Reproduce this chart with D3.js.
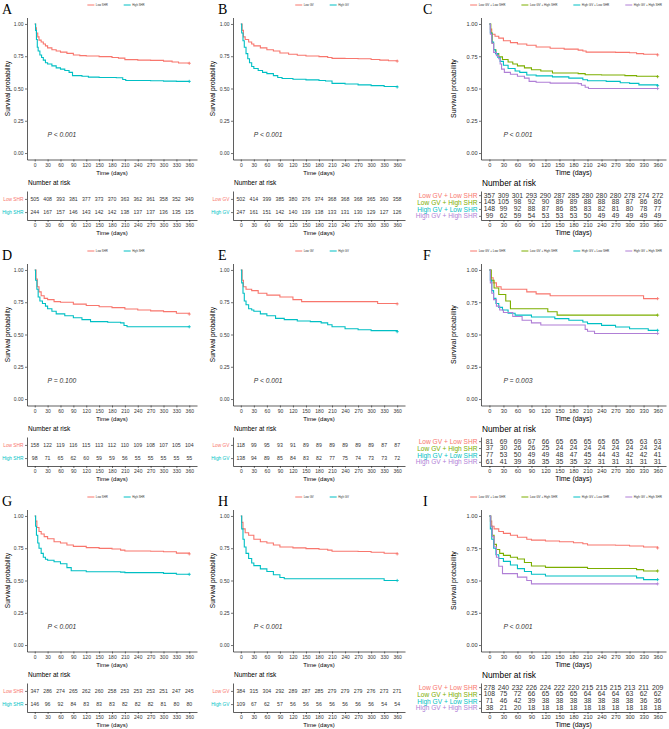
<!DOCTYPE html>
<html>
<head>
<meta charset="utf-8">
<script src="https://cdn.jsdelivr.net/npm/d3@7"></script>
<style>
  body { margin: 0; background: #fff; }
  svg { display: block; font-family: "Liberation Sans", Arial, sans-serif; }
</style>
</head>
<body>
<svg id="chart" width="669" height="729"></svg>
<script>
// ---- data ----
const timeTicks = [0, 30, 60, 90, 120, 150, 180, 210, 240, 270, 300, 330, 360];
const survTicks = [0, 0.25, 0.5, 0.75, 1];

const shrGroups = ["Low SHR", "High SHR"];
const gvGroups = ["Low GV", "High GV"];
const comboGroups = ["Low GV + Low SHR", "Low GV + High SHR", "High GV + Low SHR", "High GV + High SHR"];
const twoColors = ["#F8766D", "#00BFC4"];
const fourColors = ["#F8766D", "#7CAE00", "#00BFC4", "#B07FD6"];

// survival curves: [day, probability] steps
const curveA_low = [[0,1],[2,0.97],[4,0.93],[7,0.9],[10,0.875],[15,0.86],[20,0.845],[25,0.83],[30,0.815],[40,0.8],[50,0.79],[60,0.782],[75,0.772],[90,0.76],[105,0.755],[120,0.752],[150,0.747],[180,0.74],[195,0.735],[210,0.724],[240,0.72],[270,0.718],[300,0.712],[320,0.705],[335,0.698],[360,0.695]];
const curveA_high = [[0,1],[2,0.95],[4,0.88],[6,0.82],[8,0.79],[12,0.76],[16,0.74],[20,0.72],[25,0.7],[30,0.69],[40,0.675],[50,0.66],[60,0.65],[70,0.64],[80,0.625],[88,0.6],[110,0.595],[125,0.588],[150,0.585],[190,0.583],[205,0.57],[212,0.562],[270,0.56],[300,0.557],[330,0.555],[360,0.555]];
const curveB_low = [[0,1],[3,0.95],[6,0.9],[10,0.88],[18,0.86],[25,0.845],[30,0.83],[45,0.815],[60,0.8],[75,0.79],[90,0.775],[110,0.765],[130,0.758],[150,0.752],[180,0.747],[200,0.74],[210,0.733],[240,0.732],[270,0.73],[300,0.725],[320,0.72],[340,0.715],[360,0.712]];
const curveB_high = [[0,1],[2,0.93],[5,0.87],[8,0.82],[12,0.77],[16,0.73],[20,0.7],[25,0.67],[30,0.655],[40,0.64],[50,0.625],[60,0.615],[75,0.6],[85,0.585],[95,0.578],[120,0.572],[150,0.567],[180,0.562],[195,0.558],[210,0.54],[240,0.535],[270,0.528],[300,0.522],[330,0.515],[360,0.512]];
const curveC_1 = [[0,1],[2,0.96],[5,0.92],[12,0.905],[20,0.89],[30,0.87],[45,0.855],[60,0.845],[80,0.835],[100,0.822],[130,0.812],[160,0.805],[190,0.797],[200,0.79],[207,0.782],[240,0.782],[270,0.78],[300,0.777],[315,0.77],[330,0.765],[360,0.76]];
const curveC_2 = [[0,1],[3,0.93],[6,0.85],[9,0.8],[14,0.77],[20,0.745],[28,0.725],[40,0.705],[50,0.69],[60,0.675],[75,0.66],[90,0.645],[110,0.635],[135,0.62],[190,0.615],[205,0.607],[240,0.605],[290,0.6],[315,0.595],[360,0.592]];
const curveC_3 = [[0,1],[2,0.93],[5,0.86],[9,0.8],[13,0.77],[18,0.74],[23,0.71],[30,0.68],[40,0.655],[55,0.635],[65,0.625],[80,0.605],[100,0.598],[135,0.59],[170,0.58],[200,0.568],[210,0.56],[250,0.555],[280,0.545],[300,0.54],[320,0.528],[360,0.522]];
const curveC_4 = [[0,1],[2,0.92],[5,0.85],[9,0.78],[15,0.755],[20,0.73],[23,0.69],[26,0.65],[32,0.625],[45,0.61],[60,0.595],[75,0.58],[85,0.555],[100,0.548],[130,0.542],[190,0.538],[197,0.525],[205,0.51],[212,0.5],[360,0.5]];
const curveD_low = [[0,1],[3,0.93],[6,0.87],[10,0.83],[15,0.8],[22,0.78],[30,0.77],[45,0.755],[60,0.75],[90,0.735],[120,0.725],[150,0.715],[180,0.708],[210,0.698],[240,0.69],[270,0.683],[300,0.677],[330,0.665],[360,0.658]];
const curveD_high = [[0,1],[2,0.92],[5,0.85],[8,0.79],[12,0.76],[18,0.74],[25,0.72],[30,0.7],[40,0.68],[50,0.66],[70,0.645],[90,0.63],[110,0.615],[130,0.6],[170,0.595],[200,0.59],[208,0.57],[215,0.56],[360,0.56]];
const curveE_low = [[0,1],[3,0.92],[6,0.87],[12,0.85],[25,0.84],[40,0.82],[60,0.805],[90,0.79],[120,0.77],[140,0.755],[300,0.755],[315,0.74],[360,0.737]];
const curveE_high = [[0,1],[2,0.9],[5,0.82],[8,0.76],[12,0.73],[18,0.7],[25,0.69],[30,0.68],[45,0.66],[60,0.645],[80,0.625],[100,0.615],[130,0.605],[160,0.6],[185,0.59],[200,0.575],[210,0.56],[240,0.545],[270,0.537],[300,0.53],[360,0.522]];
const curveF_1 = [[0,1],[3,0.94],[8,0.9],[15,0.87],[25,0.85],[60,0.85],[80,0.83],[100,0.815],[130,0.8],[320,0.8],[330,0.778],[360,0.778]];
const curveF_2 = [[0,1],[4,0.92],[10,0.86],[20,0.81],[35,0.76],[45,0.7],[110,0.7],[125,0.676],[145,0.65],[360,0.65]];
const curveF_3 = [[0,1],[2,0.92],[5,0.84],[9,0.78],[14,0.74],[20,0.71],[28,0.69],[40,0.665],[55,0.65],[90,0.636],[140,0.623],[170,0.61],[200,0.597],[210,0.584],[240,0.571],[270,0.558],[300,0.545],[340,0.532],[360,0.532]];
const curveF_4 = [[0,1],[2,0.9],[5,0.82],[9,0.77],[15,0.72],[22,0.69],[30,0.67],[50,0.64],[70,0.61],[90,0.59],[110,0.574],[200,0.574],[205,0.54],[210,0.525],[225,0.508],[360,0.508]];
const curveG_low = [[0,1],[2,0.96],[5,0.91],[10,0.88],[15,0.86],[22,0.84],[30,0.824],[45,0.8],[60,0.79],[75,0.775],[90,0.764],[120,0.755],[150,0.749],[180,0.744],[200,0.735],[210,0.729],[270,0.727],[300,0.723],[330,0.712],[360,0.706]];
const curveG_high = [[0,1],[2,0.92],[4,0.85],[7,0.79],[10,0.75],[15,0.71],[20,0.68],[25,0.665],[30,0.657],[45,0.645],[60,0.63],[75,0.6],[85,0.575],[120,0.568],[200,0.565],[210,0.561],[300,0.555],[330,0.548],[360,0.548]];
const curveH_low = [[0,1],[2,0.95],[5,0.9],[10,0.87],[18,0.85],[30,0.82],[45,0.8],[60,0.79],[75,0.775],[90,0.76],[120,0.753],[150,0.747],[180,0.742],[200,0.735],[210,0.727],[270,0.725],[300,0.719],[330,0.711],[360,0.706]];
const curveH_high = [[0,1],[2,0.9],[5,0.82],[8,0.76],[12,0.71],[18,0.67],[25,0.635],[30,0.615],[45,0.59],[60,0.57],[75,0.545],[90,0.523],[100,0.514],[320,0.514],[330,0.5],[360,0.5]];
const curveI_1 = [[0,1],[2,0.96],[5,0.92],[10,0.9],[20,0.88],[30,0.865],[45,0.85],[60,0.835],[80,0.82],[90,0.813],[120,0.806],[150,0.8],[180,0.793],[200,0.785],[210,0.775],[270,0.773],[300,0.767],[330,0.76],[360,0.752]];
const curveI_2 = [[0,1],[3,0.92],[6,0.85],[10,0.78],[15,0.74],[22,0.71],[30,0.695],[45,0.68],[60,0.667],[75,0.64],[90,0.612],[120,0.602],[200,0.602],[210,0.593],[300,0.593],[315,0.584],[330,0.574],[360,0.574]];
const curveI_3 = [[0,1],[2,0.9],[5,0.82],[9,0.75],[14,0.7],[20,0.67],[30,0.648],[45,0.62],[60,0.592],[75,0.57],[90,0.549],[120,0.535],[300,0.535],[315,0.52],[330,0.507],[360,0.507]];
const curveI_4 = [[0,1],[3,0.92],[6,0.84],[10,0.76],[15,0.68],[20,0.61],[28,0.553],[60,0.526],[80,0.5],[90,0.474],[360,0.474]];

// numbers at risk at each time tick
const riskA_low = [505, 408, 393, 381, 377, 373, 370, 363, 362, 361, 358, 352, 349];
const riskA_high = [244, 167, 157, 146, 143, 142, 142, 138, 137, 137, 136, 135, 135];
const riskB_low = [502, 414, 399, 385, 380, 376, 374, 368, 368, 368, 365, 360, 358];
const riskB_high = [247, 161, 151, 142, 140, 139, 138, 133, 131, 130, 129, 127, 126];
const riskC_1 = [357, 309, 301, 293, 290, 287, 285, 280, 280, 280, 278, 274, 272];
const riskC_2 = [145, 105, 98, 92, 90, 89, 89, 88, 88, 88, 87, 86, 86];
const riskC_3 = [148, 99, 92, 88, 87, 86, 85, 83, 82, 81, 80, 78, 77];
const riskC_4 = [99, 62, 59, 54, 53, 53, 53, 50, 49, 49, 49, 49, 49];
const riskD_low = [158, 122, 119, 116, 115, 113, 112, 110, 109, 108, 107, 105, 104];
const riskD_high = [98, 71, 65, 62, 60, 59, 59, 56, 55, 55, 55, 55, 55];
const riskE_low = [118, 99, 95, 93, 91, 89, 89, 89, 89, 89, 89, 87, 87];
const riskE_high = [138, 94, 89, 85, 84, 83, 82, 77, 75, 74, 73, 73, 72];
const riskF_1 = [81, 69, 69, 67, 66, 65, 65, 65, 65, 65, 65, 63, 63];
const riskF_2 = [37, 30, 26, 26, 25, 24, 24, 24, 24, 24, 24, 24, 24];
const riskF_3 = [77, 53, 50, 49, 49, 48, 47, 45, 44, 43, 42, 42, 41];
const riskF_4 = [61, 41, 39, 36, 35, 35, 35, 32, 31, 31, 31, 31, 31];
const riskG_low = [347, 286, 274, 265, 262, 260, 258, 253, 253, 253, 251, 247, 245];
const riskG_high = [146, 96, 92, 84, 83, 83, 83, 82, 82, 82, 81, 80, 80];
const riskH_low = [384, 315, 304, 292, 289, 287, 285, 279, 279, 279, 276, 273, 271];
const riskH_high = [109, 67, 62, 57, 56, 56, 56, 56, 56, 56, 56, 54, 54];
const riskI_1 = [278, 240, 232, 226, 224, 222, 220, 215, 215, 215, 213, 211, 209];
const riskI_2 = [108, 75, 72, 66, 65, 65, 65, 64, 64, 64, 63, 62, 62];
const riskI_3 = [71, 46, 42, 39, 38, 38, 38, 38, 38, 38, 38, 36, 36];
const riskI_4 = [38, 21, 20, 18, 18, 18, 18, 18, 18, 18, 18, 18, 18];

const letters = ["A", "B", "C", "D", "E", "F", "G", "H", "I"];
const pLabels = ["P < 0.001", "P < 0.001", "P < 0.001", "P = 0.100", "P < 0.001", "P = 0.003", "P < 0.001", "P < 0.001", "P < 0.001"];

const panels = [
  { groups: shrGroups, colors: twoColors, curves: [curveA_low, curveA_high], risk: [riskA_low, riskA_high] },
  { groups: gvGroups, colors: twoColors, curves: [curveB_low, curveB_high], risk: [riskB_low, riskB_high] },
  { groups: comboGroups, colors: fourColors, curves: [curveC_1, curveC_2, curveC_3, curveC_4], risk: [riskC_1, riskC_2, riskC_3, riskC_4] },
  { groups: shrGroups, colors: twoColors, curves: [curveD_low, curveD_high], risk: [riskD_low, riskD_high] },
  { groups: gvGroups, colors: twoColors, curves: [curveE_low, curveE_high], risk: [riskE_low, riskE_high] },
  { groups: comboGroups, colors: fourColors, curves: [curveF_1, curveF_2, curveF_3, curveF_4], risk: [riskF_1, riskF_2, riskF_3, riskF_4] },
  { groups: shrGroups, colors: twoColors, curves: [curveG_low, curveG_high], risk: [riskG_low, riskG_high] },
  { groups: gvGroups, colors: twoColors, curves: [curveH_low, curveH_high], risk: [riskH_low, riskH_high] },
  { groups: comboGroups, colors: fourColors, curves: [curveI_1, curveI_2, curveI_3, curveI_4], risk: [riskI_1, riskI_2, riskI_3, riskI_4] },
];

// ---- layout per column ----
const cols = [
  { axisX: 27, right: 197, ylab: 8, legendC: 116, letterX: 2, tick: 5, title: 6, ytitle: 6.6, nar: 6.5, num: 5.2, rowLab: 4.8, p: 6.7, legend: 2.8 },
  { axisX: 233, right: 405, ylab: 213, legendC: 322, letterX: 218, tick: 5, title: 6, ytitle: 6.6, nar: 6.5, num: 5.2, rowLab: 4.8, p: 6.7, legend: 2.8 },
  { axisX: 481, right: 666, ylab: 454, legendC: 566, letterX: 423, tick: 5.6, title: 7, ytitle: 7, nar: 8.3, num: 6.8, rowLab: 6.6, p: 6.8, legend: 3 },
];
const rowH = 246;

const svg = d3.select("#chart");
const axisColor = "#1a1a1a";
const textColor = "#333";

function styleAxis(g, fs) {
  g.selectAll("path.domain").attr("stroke", axisColor).attr("stroke-width", 0.7);
  g.selectAll(".tick line").attr("stroke", axisColor).attr("stroke-width", 0.6);
  g.selectAll(".tick text").attr("fill", textColor).style("font-size", fs + "px").style("font-family", "Liberation Sans, Arial, sans-serif");
}

function drawPanel(p, i) {
  const c = cols[i % 3];
  const oy = Math.floor(i / 3) * rowH;
  const g = svg.append("g");

  const x = d3.scaleLinear().domain([-18, 378]).range([c.axisX, c.right]);
  const y = d3.scaleLinear().domain([-0.05, 1.05]).range([oy + 159.5, oy + 17.5]);

  // panel letter
  g.append("text")
    .attr("x", c.letterX).attr("y", oy + 13.5)
    .style("font-family", "Liberation Serif, Times New Roman, serif")
    .style("font-size", "14px")
    .text(letters[i]);

  // legend
  const leg = g.append("g");
  let lx = 0;
  p.groups.forEach((name, k) => {
    const it = leg.append("g").attr("transform", `translate(${lx},0)`);
    it.append("line").attr("x1", 0).attr("x2", 7).attr("y1", 0).attr("y2", 0)
      .attr("stroke", p.colors[k]).attr("stroke-width", 1);
    const t = it.append("text").attr("x", 8.5).attr("y", 0).attr("dy", "0.35em")
      .style("font-size", c.legend + "px").attr("fill", textColor).text(name);
    lx += 8.5 + t.node().getComputedTextLength() + 16;
  });
  const legW = lx - 16;
  leg.attr("transform", `translate(${c.legendC - legW / 2},${oy + 5})`);

  // axes
  const yAx = g.append("g").attr("transform", `translate(${c.axisX},0)`)
    .call(d3.axisLeft(y).tickValues(survTicks).tickFormat(d3.format(".2f")).tickSize(2).tickSizeOuter(0).tickPadding(1.5));
  styleAxis(yAx, c.tick);
  const xAx = g.append("g").attr("transform", `translate(0,${oy + 159.5})`)
    .call(d3.axisBottom(x).tickValues(timeTicks).tickSize(2).tickSizeOuter(0).tickPadding(1.5));
  styleAxis(xAx, c.tick);

  g.append("text")
    .attr("transform", `translate(${c.ylab},${oy + 88.5}) rotate(-90)`)
    .attr("text-anchor", "middle").attr("dy", "0.35em")
    .style("font-size", c.ytitle + "px").text("Survival probability");
  g.append("text")
    .attr("x", (c.axisX + c.right) / 2).attr("y", oy + 172.5)
    .attr("text-anchor", "middle").attr("dy", "0.35em")
    .style("font-size", c.title + "px").text("Time (days)");

  // curves
  const line = d3.line().x(d => x(d[0])).y(d => y(d[1])).curve(d3.curveStepAfter);
  p.curves.forEach((cv, k) => {
    g.append("path").attr("d", line(cv)).attr("fill", "none")
      .attr("stroke", p.colors[k]).attr("stroke-width", 1.1);
    const last = cv[cv.length - 1];
    const cx = x(last[0]), cy = y(last[1]);
    g.append("path").attr("d", `M${cx - 1.6},${cy}H${cx + 1.6}M${cx},${cy - 1.6}V${cy + 1.6}`)
      .attr("stroke", p.colors[k]).attr("stroke-width", 0.8);
  });

  // p value
  g.append("text")
    .attr("x", x(30)).attr("y", y(0.14)).attr("dy", "0.35em")
    .style("font-size", c.p + "px").style("font-style", "italic")
    .attr("fill", textColor).text(pLabels[i]);

  // risk table
  g.append("text")
    .attr("x", c.axisX + 1).attr("y", oy + 183).attr("dy", "0.35em")
    .style("font-size", c.nar + "px").text("Number at risk");

  const yr = d3.scalePoint().domain(p.groups).range([oy + 191, oy + 220]).padding(0.6);
  const ryAx = g.append("g").attr("transform", `translate(${c.axisX},0)`)
    .call(d3.axisLeft(yr).tickSize(2).tickSizeOuter(0).tickPadding(1.5));
  styleAxis(ryAx, c.rowLab);
  ryAx.selectAll(".tick text").attr("fill", (d) => p.colors[p.groups.indexOf(d)]);
  const rxAx = g.append("g").attr("transform", `translate(0,${oy + 220})`)
    .call(d3.axisBottom(x).tickValues(timeTicks).tickSize(2).tickSizeOuter(0).tickPadding(1.5));
  styleAxis(rxAx, c.tick);

  p.risk.forEach((row, k) => {
    g.append("g").selectAll("text").data(row).join("text")
      .attr("x", (d, j) => x(timeTicks[j]))
      .attr("y", yr(p.groups[k])).attr("dy", "0.35em")
      .attr("text-anchor", "middle")
      .style("font-size", c.num + "px").attr("fill", textColor)
      .text(d => d);
  });

  g.append("text")
    .attr("x", (c.axisX + c.right) / 2).attr("y", oy + 232.5)
    .attr("text-anchor", "middle").attr("dy", "0.35em")
    .style("font-size", c.title + "px").text("Time (days)");
}

panels.forEach(drawPanel);
</script>
</body>
</html>
